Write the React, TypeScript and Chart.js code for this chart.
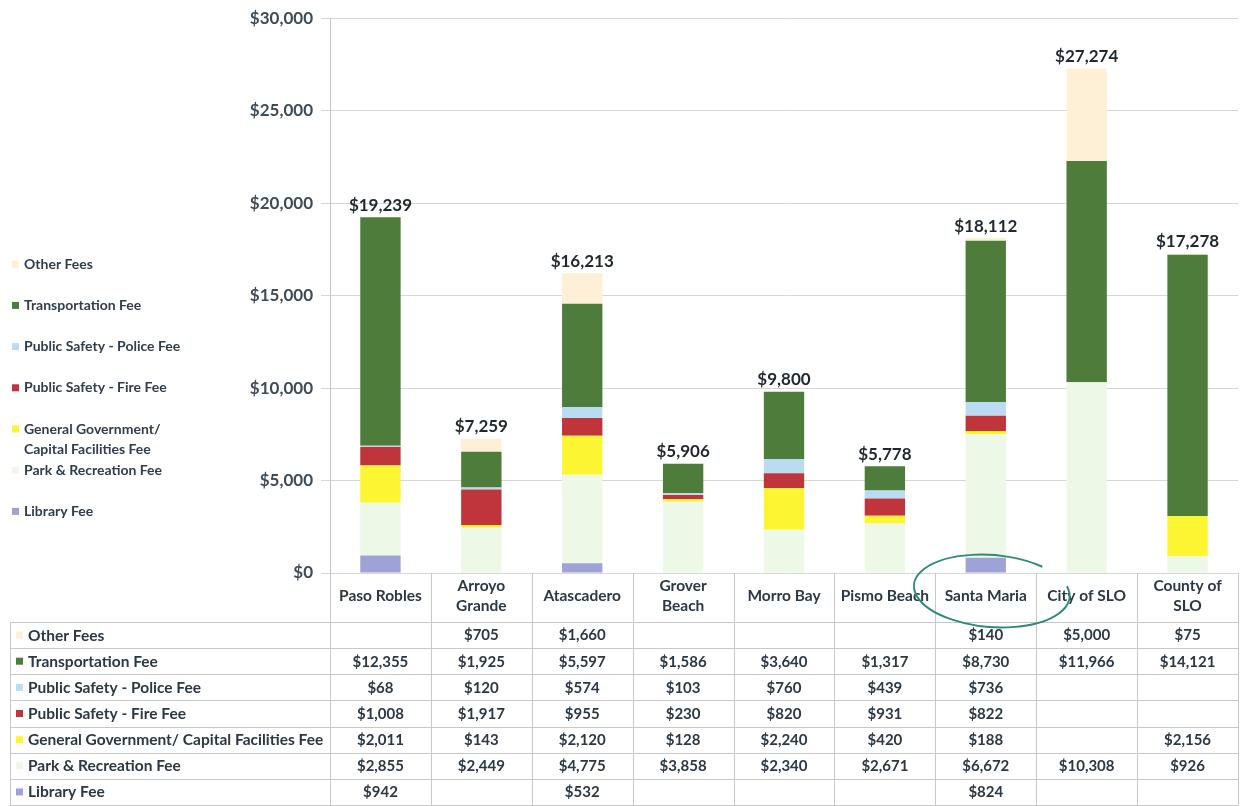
import React, { useEffect, useRef } from 'react';
import { Chart, registerables } from 'chart.js';

Chart.register(...registerables);

// ---------- data ----------
const categories = [
  'Paso Robles',
  'Arroyo\nGrande',
  'Atascadero',
  'Grover\nBeach',
  'Morro Bay',
  'Pismo Beach',
  'Santa Maria',
  'City of SLO',
  'County of\nSLO',
];

// stack order: bottom -> top
const libraryFee = [942, null, 532, null, null, null, 824, null, null];
const parkRecreationFee = [2855, 2449, 4775, 3858, 2340, 2671, 6672, 10308, 926];
const generalGovernmentFee = [2011, 143, 2120, 128, 2240, 420, 188, null, 2156];
const fireFee = [1008, 1917, 955, 230, 820, 931, 822, null, null];
const policeFee = [68, 120, 574, 103, 760, 439, 736, null, null];
const transportationFee = [12355, 1925, 5597, 1586, 3640, 1317, 8730, 11966, 14121];
const otherFees = [null, 705, 1660, null, null, null, 140, 5000, 75];

const totals = [19239, 7259, 16213, 5906, 9800, 5778, 18112, 27274, 17278];

const yMin = 0;
const yMax = 30000;
const yStep = 5000;

const seriesLabels = [
  'Library Fee',
  'Park & Recreation Fee',
  'General Government/ Capital Facilities Fee',
  'Public Safety - Fire Fee',
  'Public Safety - Police Fee',
  'Transportation Fee',
  'Other Fees',
];
const seriesColors = ['#9ea2d6', '#eef8e6', '#fbf631', '#c0343b', '#b9dcf3', '#4e7c3a', '#fdf0d6'];
const seriesValues = [
  libraryFee,
  parkRecreationFee,
  generalGovernmentFee,
  fireFee,
  policeFee,
  transportationFee,
  otherFees,
];

// ---------- styling ----------
const FONT = 'Lato, "Open Sans", "DejaVu Sans", sans-serif';
const TEXT = '#2b3845';
const AXIS_TEXT = '#3e4c58';
const GRID = '#d6d6d6';
const TABLE_LINE = '#c8c8c8';

const fmt = (v: number) => '$' + v.toLocaleString('en-US');

function strokeLine(ctx: CanvasRenderingContext2D, x1: number, y1: number, x2: number, y2: number) {
  ctx.beginPath();
  ctx.moveTo(x1, y1);
  ctx.lineTo(x2, y2);
  ctx.stroke();
}

const totalsPlugin = {
  id: 'totalsLabels',
  afterDatasetsDraw(chart: any) {
    const { ctx, scales } = chart;
    ctx.save();
    ctx.font = `bold 17px ${FONT}`;
    ctx.fillStyle = '#1f2832';
    ctx.textAlign = 'center';
    ctx.textBaseline = 'middle';
    totals.forEach((t, i) => {
      const px = scales.x.getPixelForValue(i);
      const py = scales.y.getPixelForValue(t);
      ctx.fillText(fmt(t), px, py - 12);
    });
    ctx.restore();
  },
};

const sideLegendPlugin = {
  id: 'sideLegend',
  afterDraw(chart: any) {
    const { ctx, chartArea } = chart;
    const ds = chart.data.datasets;
    const startY = chartArea.top + 246;
    const step = 41.2;
    ctx.save();
    ctx.font = `bold 14px ${FONT}`;
    ctx.textBaseline = 'middle';
    ctx.textAlign = 'left';
    for (let k = 0; k < ds.length; k++) {
      const d = ds[ds.length - 1 - k];
      const yy = startY + k * step;
      ctx.fillStyle = d.backgroundColor;
      ctx.fillRect(12, yy - 3.5, 7, 7);
      ctx.fillStyle = '#2f3d4d';
      const parts = String(d.label).split('/ ');
      if (parts.length > 1) {
        ctx.fillText(parts[0] + '/', 24, yy);
        ctx.fillText(parts[1], 24, yy + 20);
      } else {
        ctx.fillText(d.label, 24, yy);
      }
    }
    ctx.restore();
  },
};

const tablePlugin = {
  id: 'dataTable',
  afterDraw(chart: any) {
    const { ctx, chartArea, scales } = chart;
    const x = scales.x;
    const n = categories.length;
    const colW = x.getPixelForValue(1) - x.getPixelForValue(0);
    const right = chartArea.right;
    const tableLeft = 10;
    const headerBottom = chartArea.bottom + 49;
    const ds = chart.data.datasets;
    const rows = ds.length;
    const bottom = chart.height - 1;
    const rowH = (bottom - headerBottom) / rows;

    ctx.save();
    ctx.strokeStyle = TABLE_LINE;
    ctx.lineWidth = 1;
    for (let r = 0; r <= rows; r++) {
      const yy = Math.round(headerBottom + r * rowH) + 0.5;
      strokeLine(ctx, tableLeft, yy, right, yy);
    }
    strokeLine(ctx, tableLeft + 0.5, headerBottom, tableLeft + 0.5, bottom);
    for (let c = 0; c <= n; c++) {
      const xx = Math.round(x.getPixelForValue(c) - colW / 2) + 0.5;
      strokeLine(ctx, xx, chartArea.bottom, xx, bottom);
    }

    ctx.textBaseline = 'middle';
    for (let r = 0; r < rows; r++) {
      const d = ds[rows - 1 - r];
      const cy = headerBottom + (r + 0.5) * rowH;
      ctx.fillStyle = d.backgroundColor;
      ctx.fillRect(tableLeft + 6, cy - 3.5, 7, 7);
      ctx.fillStyle = TEXT;
      ctx.textAlign = 'left';
      ctx.font = `bold 15.5px ${FONT}`;
      ctx.fillText(d.label, tableLeft + 18, cy + 0.5);
      ctx.textAlign = 'center';
      ctx.font = `bold 15px ${FONT}`;
      d.data.forEach((v: number | null, c: number) => {
        if (v === null || v === undefined) return;
        ctx.fillText(fmt(v), x.getPixelForValue(c), cy + 0.5);
      });
    }

    // hand-drawn annotation ellipse around Santa Maria
    const sm = categories.indexOf('Santa Maria');
    const ex = x.getPixelForValue(sm) + 6;
    const ey = chartArea.bottom + 18;
    ctx.strokeStyle = '#2e8b7b';
    ctx.lineWidth = 2;
    ctx.beginPath();
    ctx.ellipse(ex, ey, 78, 36, 0.08, -0.3, -0.3 + Math.PI * 2 - 0.6);
    ctx.stroke();
    ctx.restore();
  },
};

export default function App() {
  const ref = useRef<HTMLCanvasElement>(null);

  useEffect(() => {
    if (!ref.current) return;
    const chart = new Chart(ref.current, {
      type: 'bar',
      data: {
        labels: categories,
        datasets: seriesLabels.map((label, i) => ({
          label,
          data: seriesValues[i],
          backgroundColor: seriesColors[i],
          borderWidth: 0,
          categoryPercentage: 1,
          barPercentage: 0.4,
        })),
      },
      options: {
        responsive: false,
        animation: false,
        layout: { padding: { top: 16, right: 3, left: 0, bottom: 0 } },
        plugins: {
          legend: { display: false },
          tooltip: { enabled: false },
        },
        scales: {
          x: {
            stacked: true,
            grid: { display: false },
            border: { display: false },
            ticks: {
              color: TEXT,
              font: { family: FONT, size: 15.5, weight: 'bold', lineHeight: 1.3 },
              padding: 5,
              crossAlign: 'center',
              maxRotation: 0,
              autoSkip: false,
              callback: (_v: any, i: number) => categories[i].split('\n'),
            },
            afterFit: (scale: any) => {
              scale.height = 233;
            },
          },
          y: {
            stacked: true,
            min: yMin,
            max: yMax,
            grid: { color: GRID, tickLength: 9 },
            border: { display: true, color: '#c4c4c4' },
            ticks: {
              stepSize: yStep,
              color: AXIS_TEXT,
              padding: 8,
              font: { family: FONT, size: 17, weight: 'bold' },
              callback: (v: any) => fmt(Number(v)),
            },
            afterFit: (scale: any) => {
              scale.width = 330;
            },
          },
        },
      },
      plugins: [totalsPlugin, tablePlugin, sideLegendPlugin],
    } as any);
    return () => chart.destroy();
  }, []);

  return (
    <div style={{ position: 'absolute', left: 0, top: 0, width: 1241, height: 806, background: '#ffffff' }}>
      <canvas ref={ref} width={1241} height={806} style={{ display: 'block' }} />
    </div>
  );
}
